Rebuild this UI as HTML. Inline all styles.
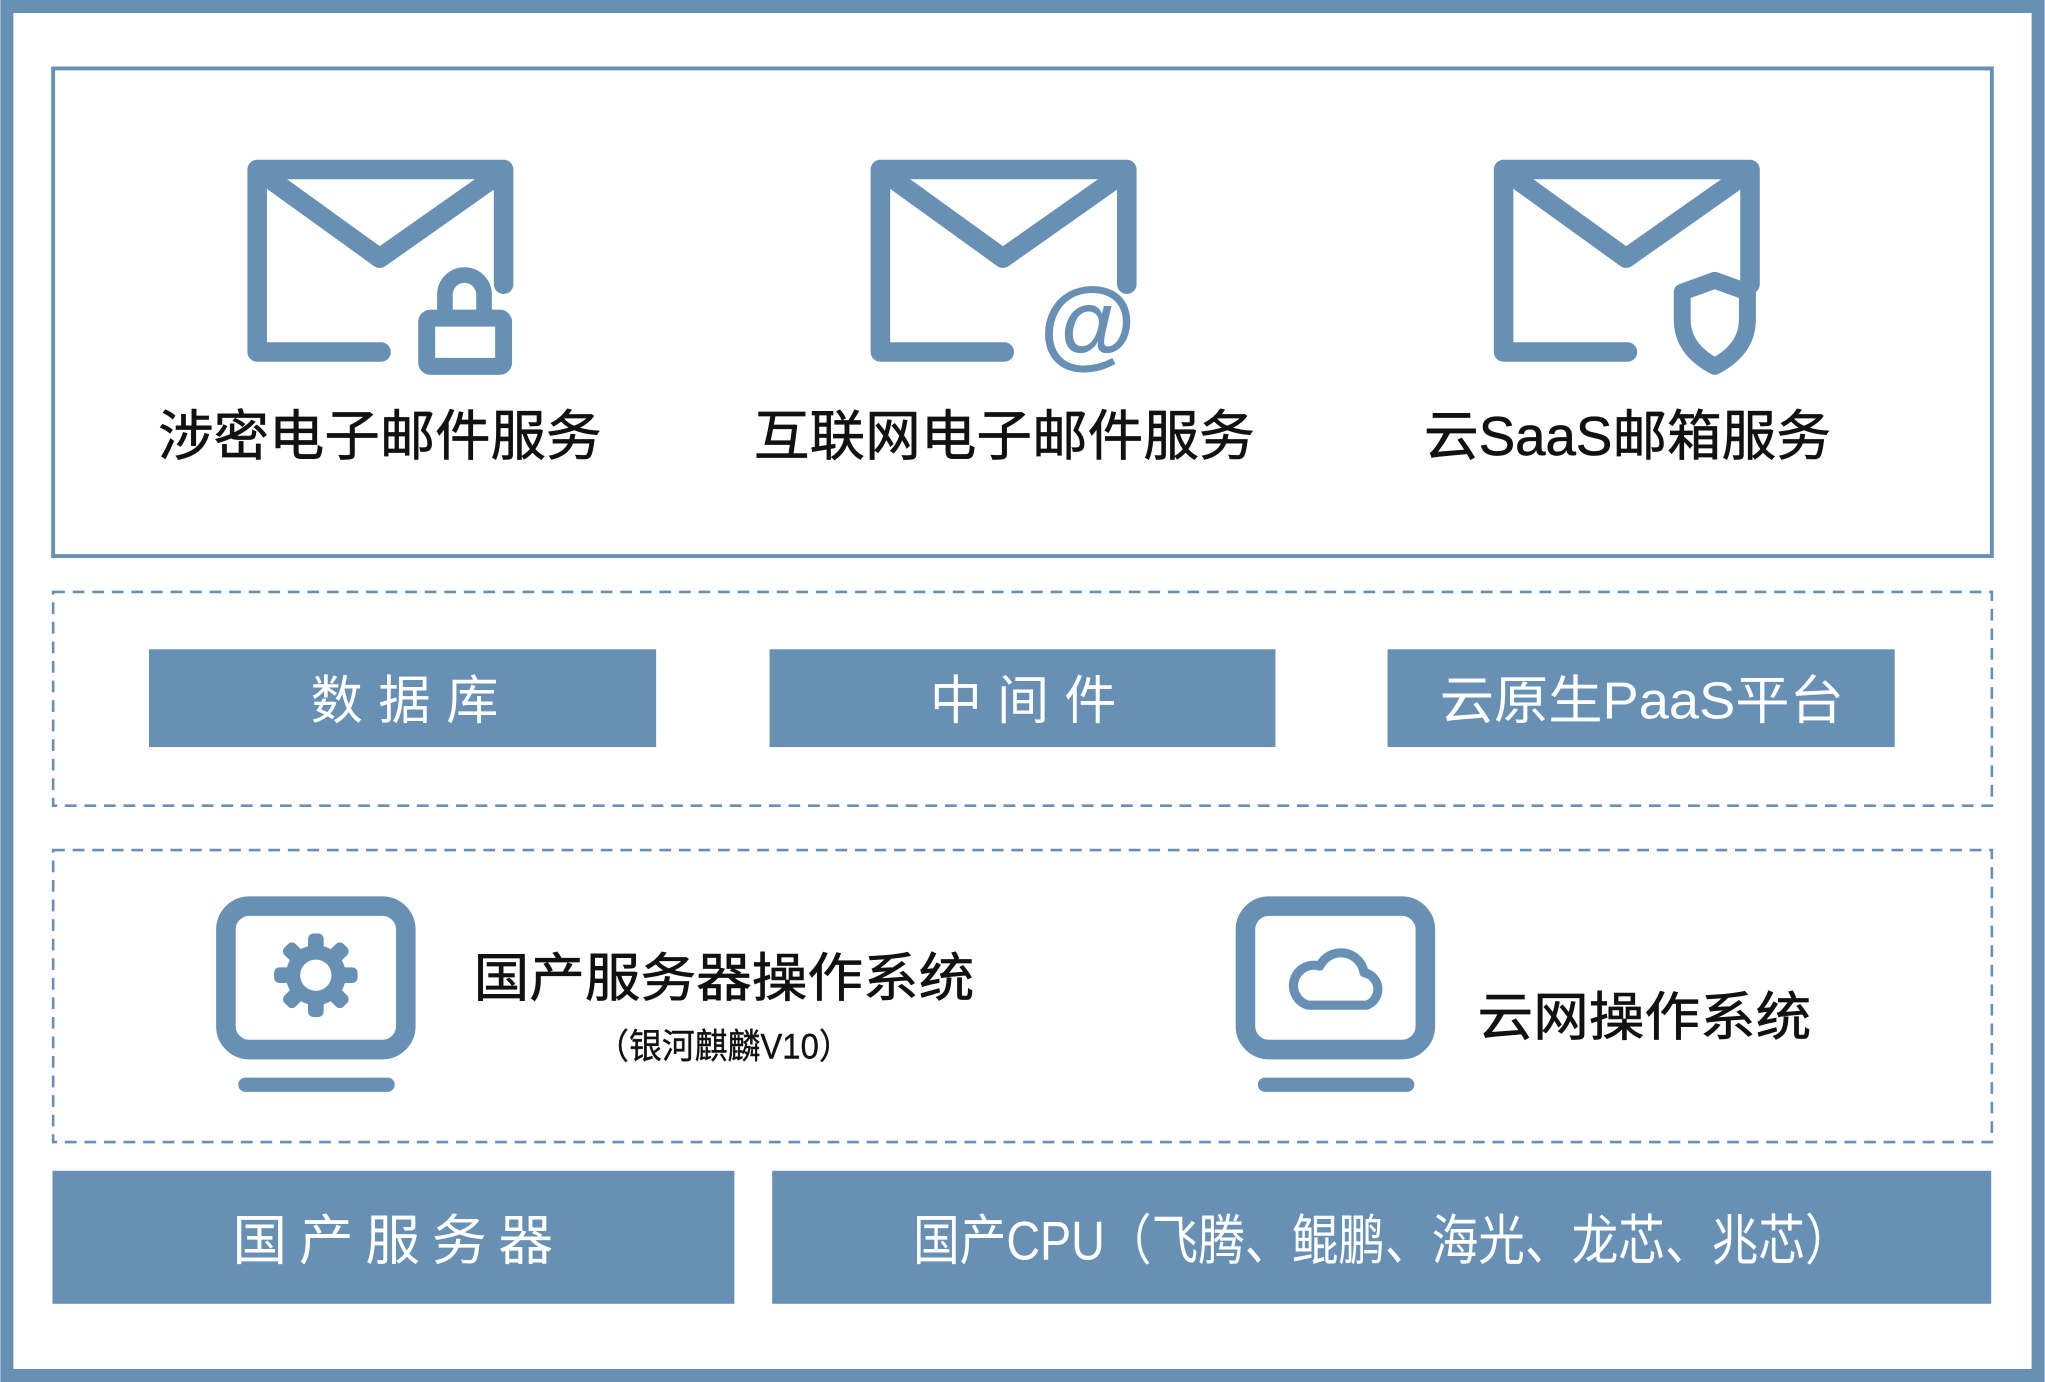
<!DOCTYPE html>
<html><head><meta charset="utf-8"><style>html,body{margin:0;padding:0;background:#fff}svg{display:block}text{font-family:"Liberation Sans","Noto Sans CJK SC",sans-serif}</style></head>
<body>
<svg width="2045" height="1382" viewBox="0 0 1568 1060" xmlns="http://www.w3.org/2000/svg">
<rect x="5" y="5" width="1558" height="1050" fill="#fff" stroke="#6890b5" stroke-width="10"/>
<rect x="40.5" y="52.5" width="1487" height="374" fill="none" stroke="#6890b5" stroke-width="3"/>
<rect x="40.5" y="454" width="1487" height="164" fill="none" stroke="#6890b5" stroke-width="2" stroke-dasharray="9,6"/>
<rect x="40.5" y="652" width="1487" height="224" fill="none" stroke="#6890b5" stroke-width="2" stroke-dasharray="9,6"/>
<g fill="none" stroke="#6890b5" stroke-width="15" stroke-linecap="round" stroke-linejoin="round">
 <g><path d="M292,270 H197 V130 H386 V218"/><path d="M205,136 L291,198 L379,136"/></g>
 <g transform="translate(478,0)"><path d="M292,270 H197 V130 H386 V218"/><path d="M205,136 L291,198 L379,136"/></g>
 <g transform="translate(956,0)"><path d="M292,270 H197 V130 H386 V218"/><path d="M205,136 L291,198 L379,136"/></g>
 <path d="M341,240 V226 A15,15 0 0 1 371,226 V240" stroke-width="12"/>
 <rect x="327" y="244" width="59" height="37" rx="3" stroke-width="13"/>
 <path d="M1315,215 L1340,224 V245 Q1340,268 1315,281 Q1290,268 1290,245 V224 Z" stroke-width="13"/>
 <rect x="173" y="695" width="138" height="110" rx="18"/>
 <rect x="955" y="695" width="138" height="110" rx="18"/>
 <path d="M188,832 H297 M970,832 H1079" stroke-width="11"/>
 <path d="M1003,771 H1048 A13,13 0 0 0 1046,746 A18,18 0 0 0 1012,741 A15,15 0 0 0 1003,771 Z" stroke-width="7"/>
</g>
<text x="834" y="274" font-size="76" font-weight="bold" fill="#6890b5" text-anchor="middle">@</text>
<g fill="#6890b5">
 <circle cx="242" cy="748" r="23"/>
 <g transform="translate(242,748)">
  <rect x="-6" y="-32" width="12" height="64" rx="4"/>
  <rect x="-6" y="-32" width="12" height="64" rx="4" transform="rotate(45)"/>
  <rect x="-6" y="-32" width="12" height="64" rx="4" transform="rotate(90)"/>
  <rect x="-6" y="-32" width="12" height="64" rx="4" transform="rotate(135)"/>
 </g>
 <circle cx="242" cy="748" r="12" fill="#fff"/>
 <rect x="114" y="498" width="389" height="75"/>
 <rect x="590" y="498" width="388" height="75"/>
 <rect x="1064" y="498" width="389" height="75"/>
 <rect x="40" y="898" width="523" height="102"/>
 <rect x="592" y="898" width="935" height="102"/>
</g>
<g font-size="42" fill="#111" stroke="#111" stroke-width="0.5">
 <text x="121" y="349" textLength="340" lengthAdjust="spacingAndGlyphs">涉密电子邮件服务</text>
 <text x="578" y="349" textLength="384" lengthAdjust="spacingAndGlyphs">互联网电子邮件服务</text>
 <text x="1092" y="349" textLength="312" lengthAdjust="spacingAndGlyphs">云SaaS邮箱服务</text>
 <text x="363" y="764" font-size="40" textLength="384" lengthAdjust="spacingAndGlyphs">国产服务器操作系统</text>
 <text x="457" y="812" font-size="27" stroke-width="0.3" textLength="196" lengthAdjust="spacingAndGlyphs">（银河麒麟V10）</text>
 <text x="1133" y="794" font-size="40" textLength="256" lengthAdjust="spacingAndGlyphs">云网操作系统</text>
</g>
<g font-size="40" fill="#fff">
 <text x="238" y="551" textLength="144" lengthAdjust="spacing">数据库</text>
 <text x="713" y="551" textLength="143" lengthAdjust="spacing">中间件</text>
 <text x="1104" y="551" textLength="310" lengthAdjust="spacingAndGlyphs">云原生PaaS平台</text>
 <text x="178" y="966" font-size="42" textLength="246" lengthAdjust="spacing">国产服务器</text>
 <text x="700" y="966" font-size="42" textLength="720" lengthAdjust="spacingAndGlyphs">国产CPU（飞腾、鲲鹏、海光、龙芯、兆芯）</text>
</g>
</svg>
</body></html>
